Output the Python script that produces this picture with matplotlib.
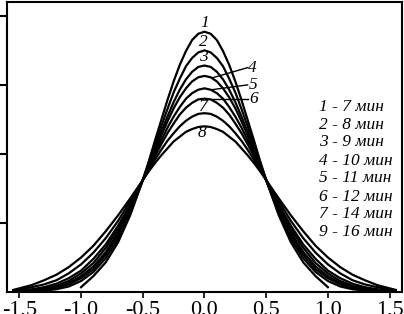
import matplotlib.pyplot as plt

# sample grid (x) and curve heights
x_wide = [-1.55, -1.4, -1.3, -1.2, -1.1, -1.0, -0.9, -0.8, -0.7, -0.6,
          -0.5, -0.45, -0.4, -0.35, -0.3, -0.25, -0.2, -0.15, -0.1, -0.05, 0.0,
          0.05, 0.1, 0.15, 0.2, 0.25, 0.3, 0.35, 0.4, 0.45, 0.5,
          0.6, 0.7, 0.8, 0.9, 1.0, 1.1, 1.2, 1.3, 1.4, 1.55]
x_narrow = [-1.0, -0.9, -0.8, -0.7, -0.6,
            -0.5, -0.45, -0.4, -0.35, -0.3, -0.25, -0.2, -0.15, -0.1, -0.05, 0.0,
            0.05, 0.1, 0.15, 0.2, 0.25, 0.3, 0.35, 0.4, 0.45, 0.5,
            0.6, 0.7, 0.8, 0.9, 1.0]

c1 = [0.07, 0.23, 0.43, 0.72, 1.12,
      1.62, 1.90, 2.20, 2.49, 2.78, 3.05, 3.29, 3.49, 3.65, 3.74, 3.77,
      3.74, 3.65, 3.49, 3.29, 3.05, 2.78, 2.49, 2.20, 1.90, 1.62,
      1.12, 0.72, 0.43, 0.23, 0.07]
c2 = [0.00, 0.01, 0.02, 0.04, 0.08, 0.16, 0.29, 0.49, 0.77, 1.15,
      1.62, 1.88, 2.14, 2.40, 2.65, 2.89, 3.09, 3.27, 3.39, 3.47, 3.50,
      3.47, 3.39, 3.27, 3.09, 2.89, 2.65, 2.40, 2.14, 1.88, 1.62,
      1.15, 0.77, 0.49, 0.29, 0.16, 0.08, 0.04, 0.02, 0.01, 0.00]
c3 = [0.00, 0.01, 0.03, 0.06, 0.11, 0.20, 0.33, 0.54, 0.82, 1.19,
      1.62, 1.85, 2.09, 2.32, 2.54, 2.75, 2.93, 3.08, 3.19, 3.26, 3.28,
      3.26, 3.19, 3.08, 2.93, 2.75, 2.54, 2.32, 2.09, 1.85, 1.62,
      1.19, 0.82, 0.54, 0.33, 0.20, 0.11, 0.06, 0.03, 0.01, 0.00]
c4 = [0.01, 0.02, 0.04, 0.07, 0.13, 0.23, 0.37, 0.58, 0.86, 1.21,
      1.62, 1.84, 2.05, 2.27, 2.47, 2.66, 2.82, 2.95, 3.05, 3.11, 3.13,
      3.11, 3.05, 2.95, 2.82, 2.66, 2.47, 2.27, 2.05, 1.84, 1.62,
      1.21, 0.86, 0.58, 0.37, 0.23, 0.13, 0.07, 0.04, 0.02, 0.01]
c5 = [0.01, 0.03, 0.05, 0.09, 0.16, 0.27, 0.42, 0.64, 0.91, 1.25,
      1.62, 1.82, 2.01, 2.20, 2.38, 2.54, 2.68, 2.80, 2.88, 2.93, 2.95,
      2.93, 2.88, 2.80, 2.68, 2.54, 2.38, 2.20, 2.01, 1.82, 1.62,
      1.25, 0.91, 0.64, 0.42, 0.27, 0.16, 0.09, 0.05, 0.03, 0.01]
c6 = [0.01, 0.04, 0.07, 0.12, 0.20, 0.31, 0.48, 0.69, 0.96, 1.27,
      1.62, 1.80, 1.97, 2.14, 2.30, 2.44, 2.57, 2.67, 2.74, 2.79, 2.80,
      2.79, 2.74, 2.67, 2.57, 2.44, 2.30, 2.14, 1.97, 1.80, 1.62,
      1.27, 0.96, 0.69, 0.48, 0.31, 0.20, 0.12, 0.07, 0.04, 0.01]
c7 = [0.02, 0.07, 0.11, 0.17, 0.27, 0.40, 0.57, 0.78, 1.03, 1.32,
      1.62, 1.77, 1.92, 2.06, 2.19, 2.30, 2.40, 2.48, 2.54, 2.58, 2.59,
      2.58, 2.54, 2.48, 2.40, 2.30, 2.19, 2.06, 1.92, 1.77, 1.62,
      1.32, 1.03, 0.78, 0.57, 0.40, 0.27, 0.17, 0.11, 0.07, 0.02]
c8 = [0.03, 0.10, 0.17, 0.25, 0.36, 0.50, 0.67, 0.88, 1.11, 1.36,
      1.62, 1.75, 1.87, 1.98, 2.08, 2.18, 2.25, 2.32, 2.36, 2.39, 2.40,
      2.39, 2.36, 2.32, 2.25, 2.18, 2.08, 1.98, 1.87, 1.75, 1.62,
      1.36, 1.11, 0.88, 0.67, 0.50, 0.36, 0.25, 0.17, 0.10, 0.03]

xticks = [-1.5, -1.0, -0.5, 0.0, 0.5, 1.0, 1.5]
xtick_labels = ['-1,5', '-1,0', '-0,5', '0,0', '0,5', '1,0', '1,5']
yticks = [1, 2, 3, 4]
legend_lines = ['1 - 7 мин', '2 - 8 мин', '3 - 9 мин', '4 - 10 мин',
                '5 - 11 мин', '6 - 12 мин', '7 - 14 мин', '9 - 16 мин']

serif = 'Liberation Serif'

fig = plt.figure(figsize=(4.04, 3.14), dpi=100)
ax = fig.add_axes([0.0173, 0.070, 0.9777, 0.9236])

ax.plot(x_narrow, c1, color='black', lw=1.6)
for c in [c2, c3, c4, c5, c6, c7, c8]:
    ax.plot(x_wide, c, color='black', lw=1.6)

ax.set_xlim(-1.6, 1.6)
ax.set_ylim(0, 4.2)

# curve numbers
num_kw = dict(family=serif, style='italic', fontsize=12.5, ha='center', va='center')
ax.text(0.0, 3.90, '1', **num_kw)
ax.text(-0.01, 3.62, '2', **num_kw)
ax.text(-0.01, 3.41, '3', **num_kw)
ax.text(-0.01, 2.68, '7', **num_kw)
ax.text(-0.02, 2.30, '8', **num_kw)

# leader lines for 4, 5, 6
ax.plot([0.06, 0.35], [3.10, 3.25], color='black', lw=1.0)
ax.plot([0.06, 0.35], [2.93, 3.00], color='black', lw=1.0)
ax.plot([0.06, 0.35], [2.80, 2.80], color='black', lw=1.0)
ax.text(0.39, 3.25, '4', **num_kw)
ax.text(0.39, 3.00, '5', **num_kw)
ax.text(0.40, 2.80, '6', **num_kw)

# legend block
leg_y = [2.68, 2.42, 2.17, 1.90, 1.65, 1.38, 1.13, 0.87]
for txt, yy in zip(legend_lines, leg_y):
    ax.text(0.93, yy, txt, family=serif, style='italic', fontsize=12.5, ha='left', va='center')

ax.set_xticks(xticks)
ax.set_xticklabels(xtick_labels, family=serif, fontsize=16)
ax.set_yticks(yticks)
ax.tick_params(axis='x', direction='out', length=4, width=1.2, pad=2)
ax.tick_params(axis='y', direction='out', length=6, width=1.5, labelleft=False)
for s in ax.spines.values():
    s.set_linewidth(1.5)

fig.savefig('out.png', dpi=100)
